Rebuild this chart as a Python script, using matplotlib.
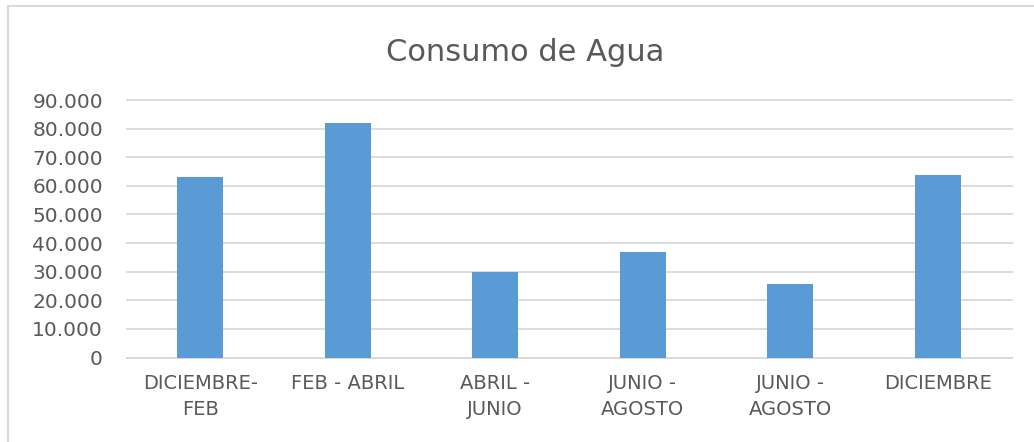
import matplotlib

matplotlib.use("Agg")
from matplotlib import pyplot as plt
from matplotlib.lines import Line2D
from matplotlib.ticker import FuncFormatter, MultipleLocator

categories = ["DICIEMBRE-\nFEB", "FEB - ABRIL", "ABRIL -\nJUNIO", "JUNIO -\nAGOSTO", "JUNIO -\nAGOSTO", "DICIEMBRE"]
consumo = [63000, 82000, 30000, 36700, 25600, 63900]

TEXT = "#595959"
GRID = "#D9D9D9"
BAR = "#5B9BD5"

W, H = 1034, 442
fig = plt.figure(figsize=(W / 100, H / 100), dpi=100)
ax = fig.add_axes([126.5 / W, 1 - 357.5 / H, (1011.5 - 126.5) / W, (357.5 - 100) / H])

positions = list(range(len(categories)))
ax.bar(positions, consumo, width=0.315, color=BAR, zorder=3)

ax.set_xlim(-0.5, len(categories) - 0.5)
ax.set_ylim(0, 90000)
ax.yaxis.set_major_locator(MultipleLocator(10000))
ax.yaxis.set_major_formatter(FuncFormatter(lambda v, _: f"{int(v):,}".replace(",", ".")))
ax.grid(axis="y", color=GRID, linewidth=1.3, zorder=0)
for line in ax.get_ygridlines():
    line.set_clip_on(False)
ax.set_xticks(positions)
ax.set_xticklabels(categories, linespacing=1.45)

for side in ("top", "right", "left"):
    ax.spines[side].set_visible(False)
ax.spines["bottom"].set_color(GRID)
ax.spines["bottom"].set_linewidth(1.3)
ax.tick_params(axis="y", length=0, pad=17, labelsize=14.5, labelcolor=TEXT)
ax.tick_params(axis="x", length=0, pad=12, labelsize=14, labelcolor=TEXT)

fig.text(525 / W, 1 - 61 / H, "Consumo de Agua", ha="center", va="baseline",
         fontsize=22, color=TEXT)

# chart frame (only the top and left edges show in the crop)
fig.add_artist(Line2D([8 / W, 8 / W], [0, 1 - 6 / H], transform=fig.transFigure,
                      color=GRID, linewidth=1.5))
fig.add_artist(Line2D([8 / W, 1], [1 - 6 / H, 1 - 6 / H], transform=fig.transFigure,
                      color=GRID, linewidth=1.5))

fig.savefig("out.png", dpi=100, facecolor="white")
plt.close(fig)
